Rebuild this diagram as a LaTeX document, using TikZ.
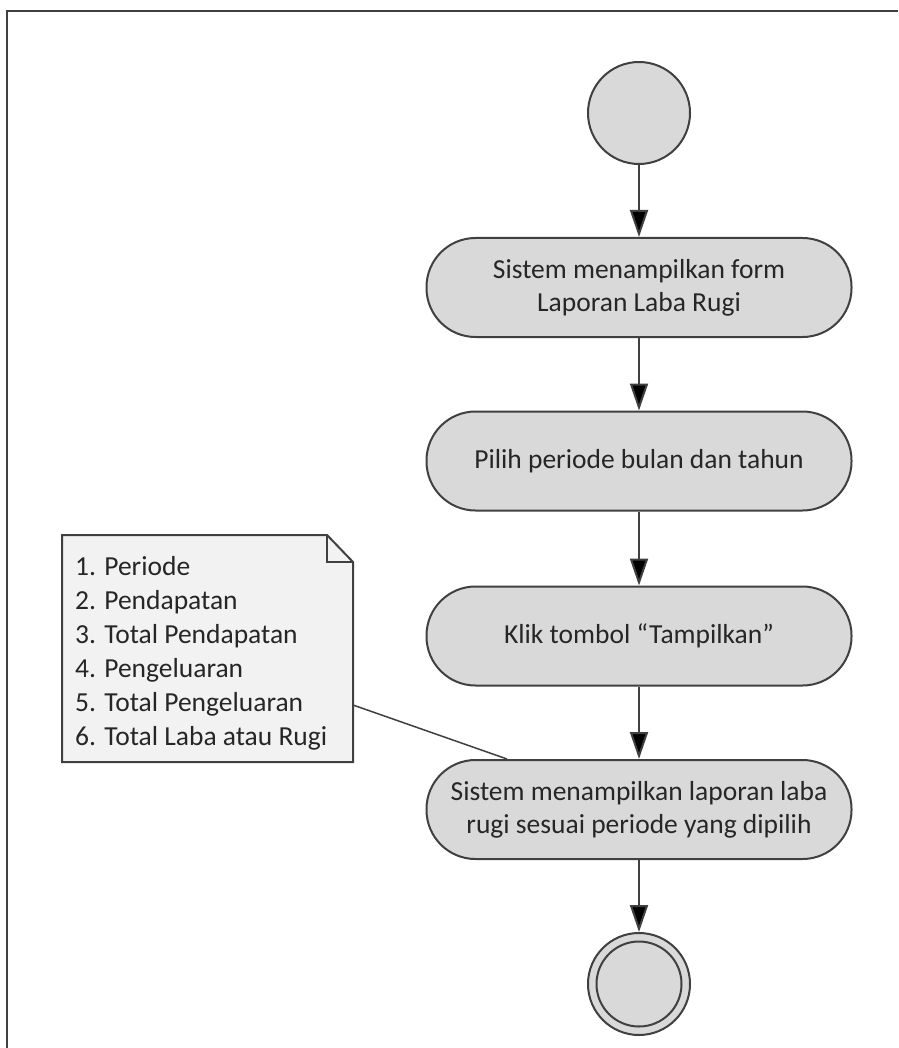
\documentclass[tikz,border=0pt]{standalone}
\usepackage{fontspec}
\setmainfont{Carlito}
\usetikzlibrary{arrows.meta,calc}
\definecolor{fillgray}{HTML}{D9D9D9}
\definecolor{notefill}{HTML}{F2F2F2}
\definecolor{edge}{HTML}{404040}
\begin{document}
\begin{tikzpicture}[x=1pt,y=-1pt,
  actbox/.style={draw=edge,line width=2pt,fill=fillgray,rectangle,rounded corners=49pt,
    minimum width=425pt,minimum height=99pt,align=center,font=\fontsize{27.5}{33}\selectfont,text=black!85},
  startnode/.style={draw=edge,line width=2pt,fill=fillgray,circle,minimum size=102pt,inner sep=0pt},
  flow/.style={draw=edge,line width=2pt,-{Triangle[length=27pt,width=18pt,fill=black]}},
  notetext/.style={align=left,font=\fontsize{27.5}{34}\selectfont,text=black!85,anchor=north west,inner sep=0pt}
]
\fill[white] (0,0) rectangle (898,1048);
\useasboundingbox (0,0) rectangle (898,1048);
% frame
\draw[edge,line width=2pt] (7,1048) -- (7,11) -- (898,11);

\node[startnode] (start) at (639,113) {};
\node[actbox] (a1) at (639,287.5) {Sistem menampilkan form\\Laporan Laba Rugi};
\node[actbox] (a2) at (639,461) {Pilih periode bulan dan tahun};
\node[actbox] (a3) at (639,636) {Klik tombol “Tampilkan”};
\node[actbox] (a4) at (639,809.5) {Sistem menampilkan laporan laba\\rugi sesuai periode yang dipilih};
\node[startnode] (end) at (639,984) {};
\node[draw=edge,line width=2pt,circle,minimum size=85pt,inner sep=0pt] (endin) at (end.center) {};

\draw[flow] (start) -- (a1);
\draw[flow] (a1) -- (a2);
\draw[flow] (a2) -- (a3);
\draw[flow] (a3) -- (a4);
\draw[flow] (a4) -- (end);

% note
\coordinate (nw) at (62,535);
\coordinate (se) at (353,762);
\draw[edge,line width=2pt,fill=notefill,line join=miter]
  (nw) -- (327,535) -- (353,562) -- (se) -- (62,762) -- cycle;
\draw[edge,line width=1.5pt] (327,535) -- (327,562) -- (353,562);
\node[notetext] (note) at (75,556) {1. Periode\\2. Pendapatan\\3. Total Pendapatan\\4. Pengeluaran\\5. Total Pengeluaran\\6. Total Laba atau Rugi};
\coordinate (nanchor) at (353,705);
\draw[edge,line width=1.5pt] (nanchor) -- ([xshift=-132pt]a4.north);
\end{tikzpicture}
\end{document}
